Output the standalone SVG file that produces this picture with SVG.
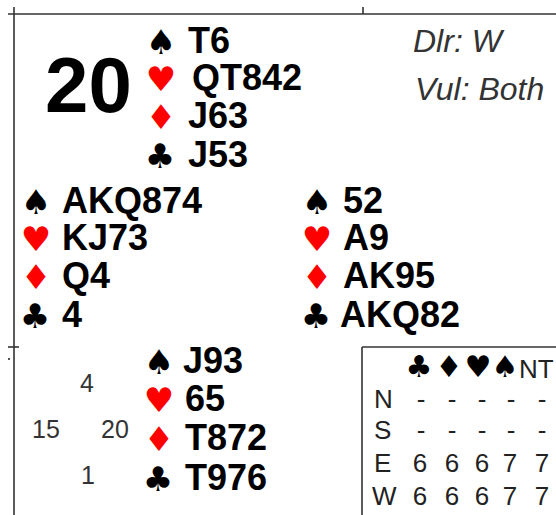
<svg xmlns="http://www.w3.org/2000/svg" width="556" height="515" viewBox="0 0 556 515">
<style>
.ln{stroke:#333;stroke-width:1.6;fill:none}
.c{font-family:"Liberation Sans",Arial,sans-serif;font-weight:bold;font-size:36px;fill:#000}
.s{font-family:"DejaVu Sans",sans-serif;font-size:34px;text-anchor:middle}
.blk{fill:#000}
.red{fill:#ff0000}
.big{font-family:"Liberation Sans",Arial,sans-serif;font-weight:bold;font-size:78px;fill:#000}
.inf{font-family:"Liberation Sans",Arial,sans-serif;font-style:italic;font-size:32px;fill:#333}
.hcp{font-family:"Liberation Sans",Arial,sans-serif;font-size:25px;fill:#333}
.t{font-family:"Liberation Sans",Arial,sans-serif;font-size:26px;fill:#222}
.tm{text-anchor:middle}
.hs{font-family:"DejaVu Sans",sans-serif;font-size:30px;fill:#000;text-anchor:middle}
</style>
<g id="frame">
<line class="ln" x1="8" y1="14" x2="556" y2="14"/>
<line class="ln" x1="14" y1="7" x2="14" y2="515"/>
<line class="ln" x1="363" y1="7" x2="363" y2="14"/>
<line class="ln" x1="8" y1="347" x2="19" y2="347"/>
<rect x="8" y="358" width="2" height="2" fill="#555"/>
</g>
<g id="board-number"><text class="big" x="45" y="112">20</text></g>
<g id="info">
<text class="inf" x="413" y="52">Dlr: W</text>
<text class="inf" x="415" y="100">Vul: Both</text>
</g>
<g id="north">
<text class="s blk" x="161" y="54">♠</text><text class="c" x="188" y="53">T6</text>
<text class="s red" x="161" y="91">♥</text><text class="c" x="192" y="90">QT842</text>
<text class="s red" x="161" y="129">♦</text><text class="c" x="188" y="128">J63</text>
<text class="s blk" x="160" y="168">♣</text><text class="c" x="188" y="167">J53</text>
</g>
<g id="west">
<text class="s blk" x="36" y="214">♠</text><text class="c" x="62" y="213">AKQ874</text>
<text class="s red" x="36" y="251">♥</text><text class="c" x="62" y="250">KJ73</text>
<text class="s red" x="36" y="289">♦</text><text class="c" x="62" y="288">Q4</text>
<text class="s blk" x="35" y="328">♣</text><text class="c" x="62" y="327">4</text>
</g>
<g id="east">
<text class="s blk" x="317" y="214">♠</text><text class="c" x="343" y="213">52</text>
<text class="s red" x="317" y="251">♥</text><text class="c" x="343" y="250">A9</text>
<text class="s red" x="317" y="289">♦</text><text class="c" x="343" y="288">AK95</text>
<text class="s blk" x="316" y="328">♣</text><text class="c" x="340" y="327">AKQ82</text>
</g>
<g id="south">
<text class="s blk" x="159" y="374">♠</text><text class="c" x="183" y="373">J93</text>
<text class="s red" x="159" y="412">♥</text><text class="c" x="185" y="411">65</text>
<text class="s red" x="159" y="451">♦</text><text class="c" x="185" y="450">T872</text>
<text class="s blk" x="158" y="491">♣</text><text class="c" x="185" y="490">T976</text>
</g>
<g id="hcp">
<text class="hcp tm" x="87" y="392">4</text>
<text class="hcp tm" x="46" y="438">15</text>
<text class="hcp tm" x="115" y="438">20</text>
<text class="hcp tm" x="88" y="484">1</text>
</g>
<g id="tricks">
<line class="ln" x1="362" y1="347" x2="556" y2="347"/>
<line class="ln" x1="362" y1="347" x2="362" y2="515"/>
<text class="hs" x="419" y="377">♣</text>
<text class="hs" x="449" y="377">♦</text>
<text class="hs" x="478" y="377">♥</text>
<text class="hs" x="505" y="377">♠</text>
<text class="t" x="519" y="378">NT</text>
<text class="t" x="374" y="408">N</text>
<text class="t tm" x="421" y="408">-</text><text class="t tm" x="452" y="408">-</text><text class="t tm" x="482" y="408">-</text><text class="t tm" x="511" y="408">-</text><text class="t tm" x="542" y="408">-</text>
<text class="t" x="374" y="439">S</text>
<text class="t tm" x="421" y="439">-</text><text class="t tm" x="452" y="439">-</text><text class="t tm" x="482" y="439">-</text><text class="t tm" x="511" y="439">-</text><text class="t tm" x="542" y="439">-</text>
<text class="t" x="374" y="472">E</text>
<text class="t tm" x="420" y="472">6</text><text class="t tm" x="452" y="472">6</text><text class="t tm" x="482" y="472">6</text><text class="t tm" x="510" y="472">7</text><text class="t tm" x="542" y="472">7</text>
<text class="t" x="372" y="505">W</text>
<text class="t tm" x="420" y="505">6</text><text class="t tm" x="452" y="505">6</text><text class="t tm" x="482" y="505">6</text><text class="t tm" x="510" y="505">7</text><text class="t tm" x="542" y="505">7</text>
</g>
</svg>
